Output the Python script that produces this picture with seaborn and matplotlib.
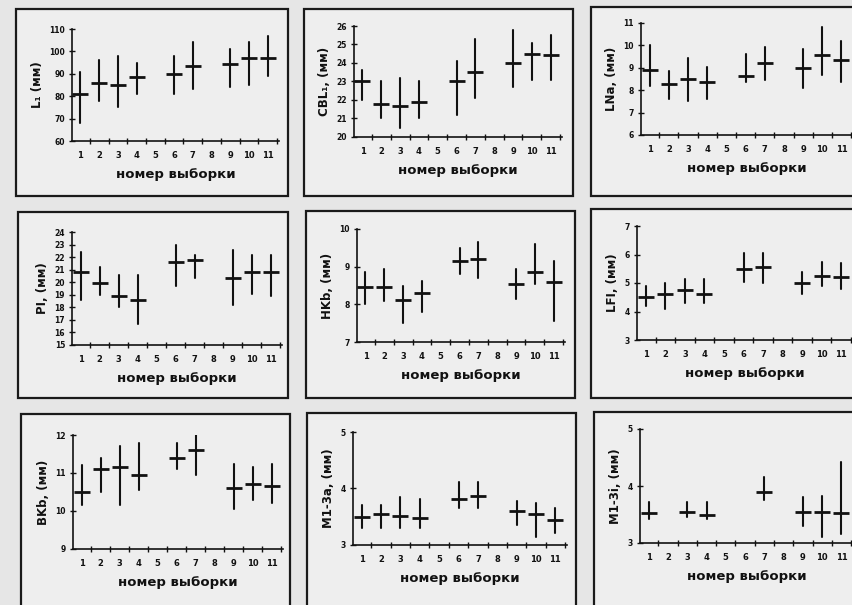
import numpy as np
import pandas as pd
import matplotlib
matplotlib.use("Agg")
import matplotlib.pyplot as plt
from matplotlib.patches import Rectangle
import seaborn as sns

sns.set_theme(style="white")
plt.rcParams['font.family'] = ['DejaVu Sans']

# ---------------- data (min, mean, max per sample) ----------------
samples_all = [1, 2, 3, 4, 6, 7, 9, 10, 11]
samples_mi = [1, 3, 4, 7, 9, 10, 11]
xtick_labels = [str(i) for i in range(1, 12)]

L1_mean = [81, 86, 85, 88.5, 90, 93.5, 94.5, 97, 97]
L1_lo = [68, 78, 75, 81, 81, 83, 84, 85, 89]
L1_hi = [91, 96, 98, 95, 98, 104, 101, 104, 107]

CBL_mean = [23.0, 21.8, 21.7, 21.9, 23.0, 23.5, 24.0, 24.5, 24.45]
CBL_lo = [22.0, 21.0, 20.5, 21.0, 21.2, 22.1, 22.7, 23.1, 23.1]
CBL_hi = [23.6, 23.0, 23.2, 23.05, 24.1, 25.3, 25.8, 25.1, 25.5]

LNa_mean = [8.9, 8.27, 8.52, 8.38, 8.65, 9.2, 9.0, 9.55, 9.35]
LNa_lo = [8.2, 7.6, 7.5, 7.6, 8.35, 8.45, 8.1, 8.7, 8.35]
LNa_hi = [10.0, 8.85, 9.45, 9.05, 9.6, 9.95, 9.85, 10.8, 10.2]

PI_mean = [20.8, 19.9, 18.9, 18.6, 21.6, 21.8, 20.3, 20.8, 20.85]
PI_lo = [18.6, 19.0, 18.0, 16.7, 19.7, 20.3, 18.2, 19.1, 18.9]
PI_hi = [22.4, 21.2, 20.6, 20.6, 23.0, 22.2, 22.6, 22.2, 22.2]

HKb_mean = [8.45, 8.45, 8.12, 8.3, 9.15, 9.2, 8.55, 8.85, 8.6]
HKb_lo = [8.0, 8.1, 7.5, 7.8, 8.8, 8.7, 8.15, 8.55, 7.55]
HKb_hi = [8.85, 8.95, 8.5, 8.62, 9.5, 9.65, 8.95, 9.6, 9.15]

LFI_mean = [4.5, 4.6, 4.75, 4.6, 5.5, 5.57, 5.0, 5.25, 5.2]
LFI_lo = [4.2, 4.1, 4.3, 4.3, 5.05, 5.0, 4.6, 4.9, 4.8]
LFI_hi = [4.9, 5.0, 5.15, 5.15, 6.05, 6.05, 5.4, 5.75, 5.7]

BKb_mean = [10.5, 11.1, 11.15, 10.95, 11.4, 11.6, 10.6, 10.72, 10.67]
BKb_lo = [10.15, 10.5, 10.15, 10.55, 11.1, 10.95, 10.05, 10.3, 10.2]
BKb_hi = [11.2, 11.4, 11.7, 11.8, 11.8, 12.2, 11.25, 11.15, 11.25]

M13a_mean = [3.5, 3.54, 3.52, 3.48, 3.82, 3.87, 3.6, 3.55, 3.45]
M13a_lo = [3.3, 3.3, 3.3, 3.3, 3.65, 3.65, 3.35, 3.15, 3.22]
M13a_hi = [3.7, 3.7, 3.85, 3.82, 4.12, 4.12, 3.77, 3.75, 3.65]

M13i_mean = [3.52, 3.55, 3.5, 3.9, 3.55, 3.55, 3.52]
M13i_lo = [3.42, 3.45, 3.42, 3.75, 3.3, 3.1, 3.15]
M13i_hi = [3.72, 3.72, 3.72, 4.15, 3.8, 3.82, 4.42]

ylabels = ["L\u2081 (мм)", "CBL\u2081, (мм)", "LNa, (мм)",
           "PI, (мм)", "HKb, (мм)", "LFI, (мм)",
           "BKb, (мм)", "M1-3a, (мм)", "M1-3i, (мм)"]
xlabel = "номер выборки"

panels = [
    (samples_all, L1_lo, L1_mean, L1_hi, (60, 110), list(range(60, 111, 10))),
    (samples_all, CBL_lo, CBL_mean, CBL_hi, (20, 26), list(range(20, 27))),
    (samples_all, LNa_lo, LNa_mean, LNa_hi, (6, 11), list(range(6, 12))),
    (samples_all, PI_lo, PI_mean, PI_hi, (15, 24), list(range(15, 25))),
    (samples_all, HKb_lo, HKb_mean, HKb_hi, (7, 10), list(range(7, 11))),
    (samples_all, LFI_lo, LFI_mean, LFI_hi, (3, 7), list(range(3, 8))),
    (samples_all, BKb_lo, BKb_mean, BKb_hi, (9, 12), list(range(9, 13))),
    (samples_all, M13a_lo, M13a_mean, M13a_hi, (3, 5), [3, 4, 5]),
    (samples_mi, M13i_lo, M13i_mean, M13i_hi, (3, 5), [3, 4, 5]),
]

# ---------------- layout (pixels) ----------------
W, H = 853, 605
fig = plt.figure(figsize=(W / 100, H / 100), dpi=100)
fig.patch.set_facecolor("#e6e6e6")

frames = [  # left, top, right, bottom
    (16, 9, 288, 196), (304, 9, 573, 196), (591, 7, 858, 196),
    (18, 212, 288, 398), (306, 211, 575, 398), (591, 209, 858, 398),
    (21, 414, 290, 610), (307, 413, 576, 610), (594, 412, 858, 610),
]
axes_px = [  # left, top, right, bottom of plot area
    (72, 29, 279, 141), (354, 26, 562, 137), (641, 23, 853, 135),
    (72, 232, 282, 345), (357, 229, 565, 342), (637, 226, 853, 340),
    (73, 435, 283, 549), (353, 432, 567, 545), (640, 429, 853, 543),
]

for (fl, ft, fr, fb) in frames:
    fig.add_artist(Rectangle((fl / W, 1 - fb / H), (fr - fl) / W, (fb - ft) / H,
                             transform=fig.transFigure, facecolor="#eeeeee",
                             edgecolor="#1a1a1a", linewidth=1.6, zorder=-5))

for i, (samp, lo, mean, hi, ylim, yticks) in enumerate(panels):
    l, t, r, b = axes_px[i]
    ax = fig.add_axes([l / W, 1 - b / H, (r - l) / W, (b - t) / H])
    ax.set_zorder(2)
    ax.patch.set_visible(False)
    df = pd.DataFrame({
        "sample": np.repeat(samp, 3),
        "value": np.ravel(np.column_stack([lo, mean, hi])),
    })
    sns.pointplot(data=df, x="sample", y="value", native_scale=True,
                  estimator="median", errorbar=("pi", 100),
                  linestyle="none", marker="_", markersize=11,
                  markeredgewidth=2.0, color="#111111",
                  err_kws={"linewidth": 1.5, "color": "#111111"}, ax=ax)
    ax.set_xlim(0.55, 11.6)
    ax.set_ylim(*ylim)
    for s in ["top", "right"]:
        ax.spines[s].set_visible(False)
    for s in ["left", "bottom"]:
        ax.spines[s].set_color("#111111")
        ax.spines[s].set_linewidth(1.2)
    ax.set_xticks(np.arange(1.5, 11.6, 1.0))
    ax.set_xticklabels([])
    ax.set_xticks(range(1, 12), minor=True)
    ax.set_xticklabels(xtick_labels, minor=True, fontsize=6, fontweight="bold")
    ax.tick_params(axis="x", which="major", direction="inout", length=4,
                   width=1, color="#111111")
    ax.tick_params(axis="x", which="minor", length=0, pad=7, colors="#111111")
    ax.set_yticks(yticks)
    ax.set_yticklabels([str(v) for v in yticks], fontsize=5.5, fontweight="bold")
    ax.tick_params(axis="y", direction="inout", length=4, width=1,
                   color="#111111", labelcolor="#111111", pad=3)
    ax.tick_params(left=True, bottom=True)
    ax.set_ylabel(ylabels[i], fontsize=8.5, fontweight="bold", color="#111111", labelpad=4)
    ax.set_xlabel(xlabel, fontsize=9.5, fontweight="bold", color="#111111", labelpad=6)
    ax.grid(False)

fig.savefig("out.png", dpi=100, facecolor=fig.get_facecolor())
